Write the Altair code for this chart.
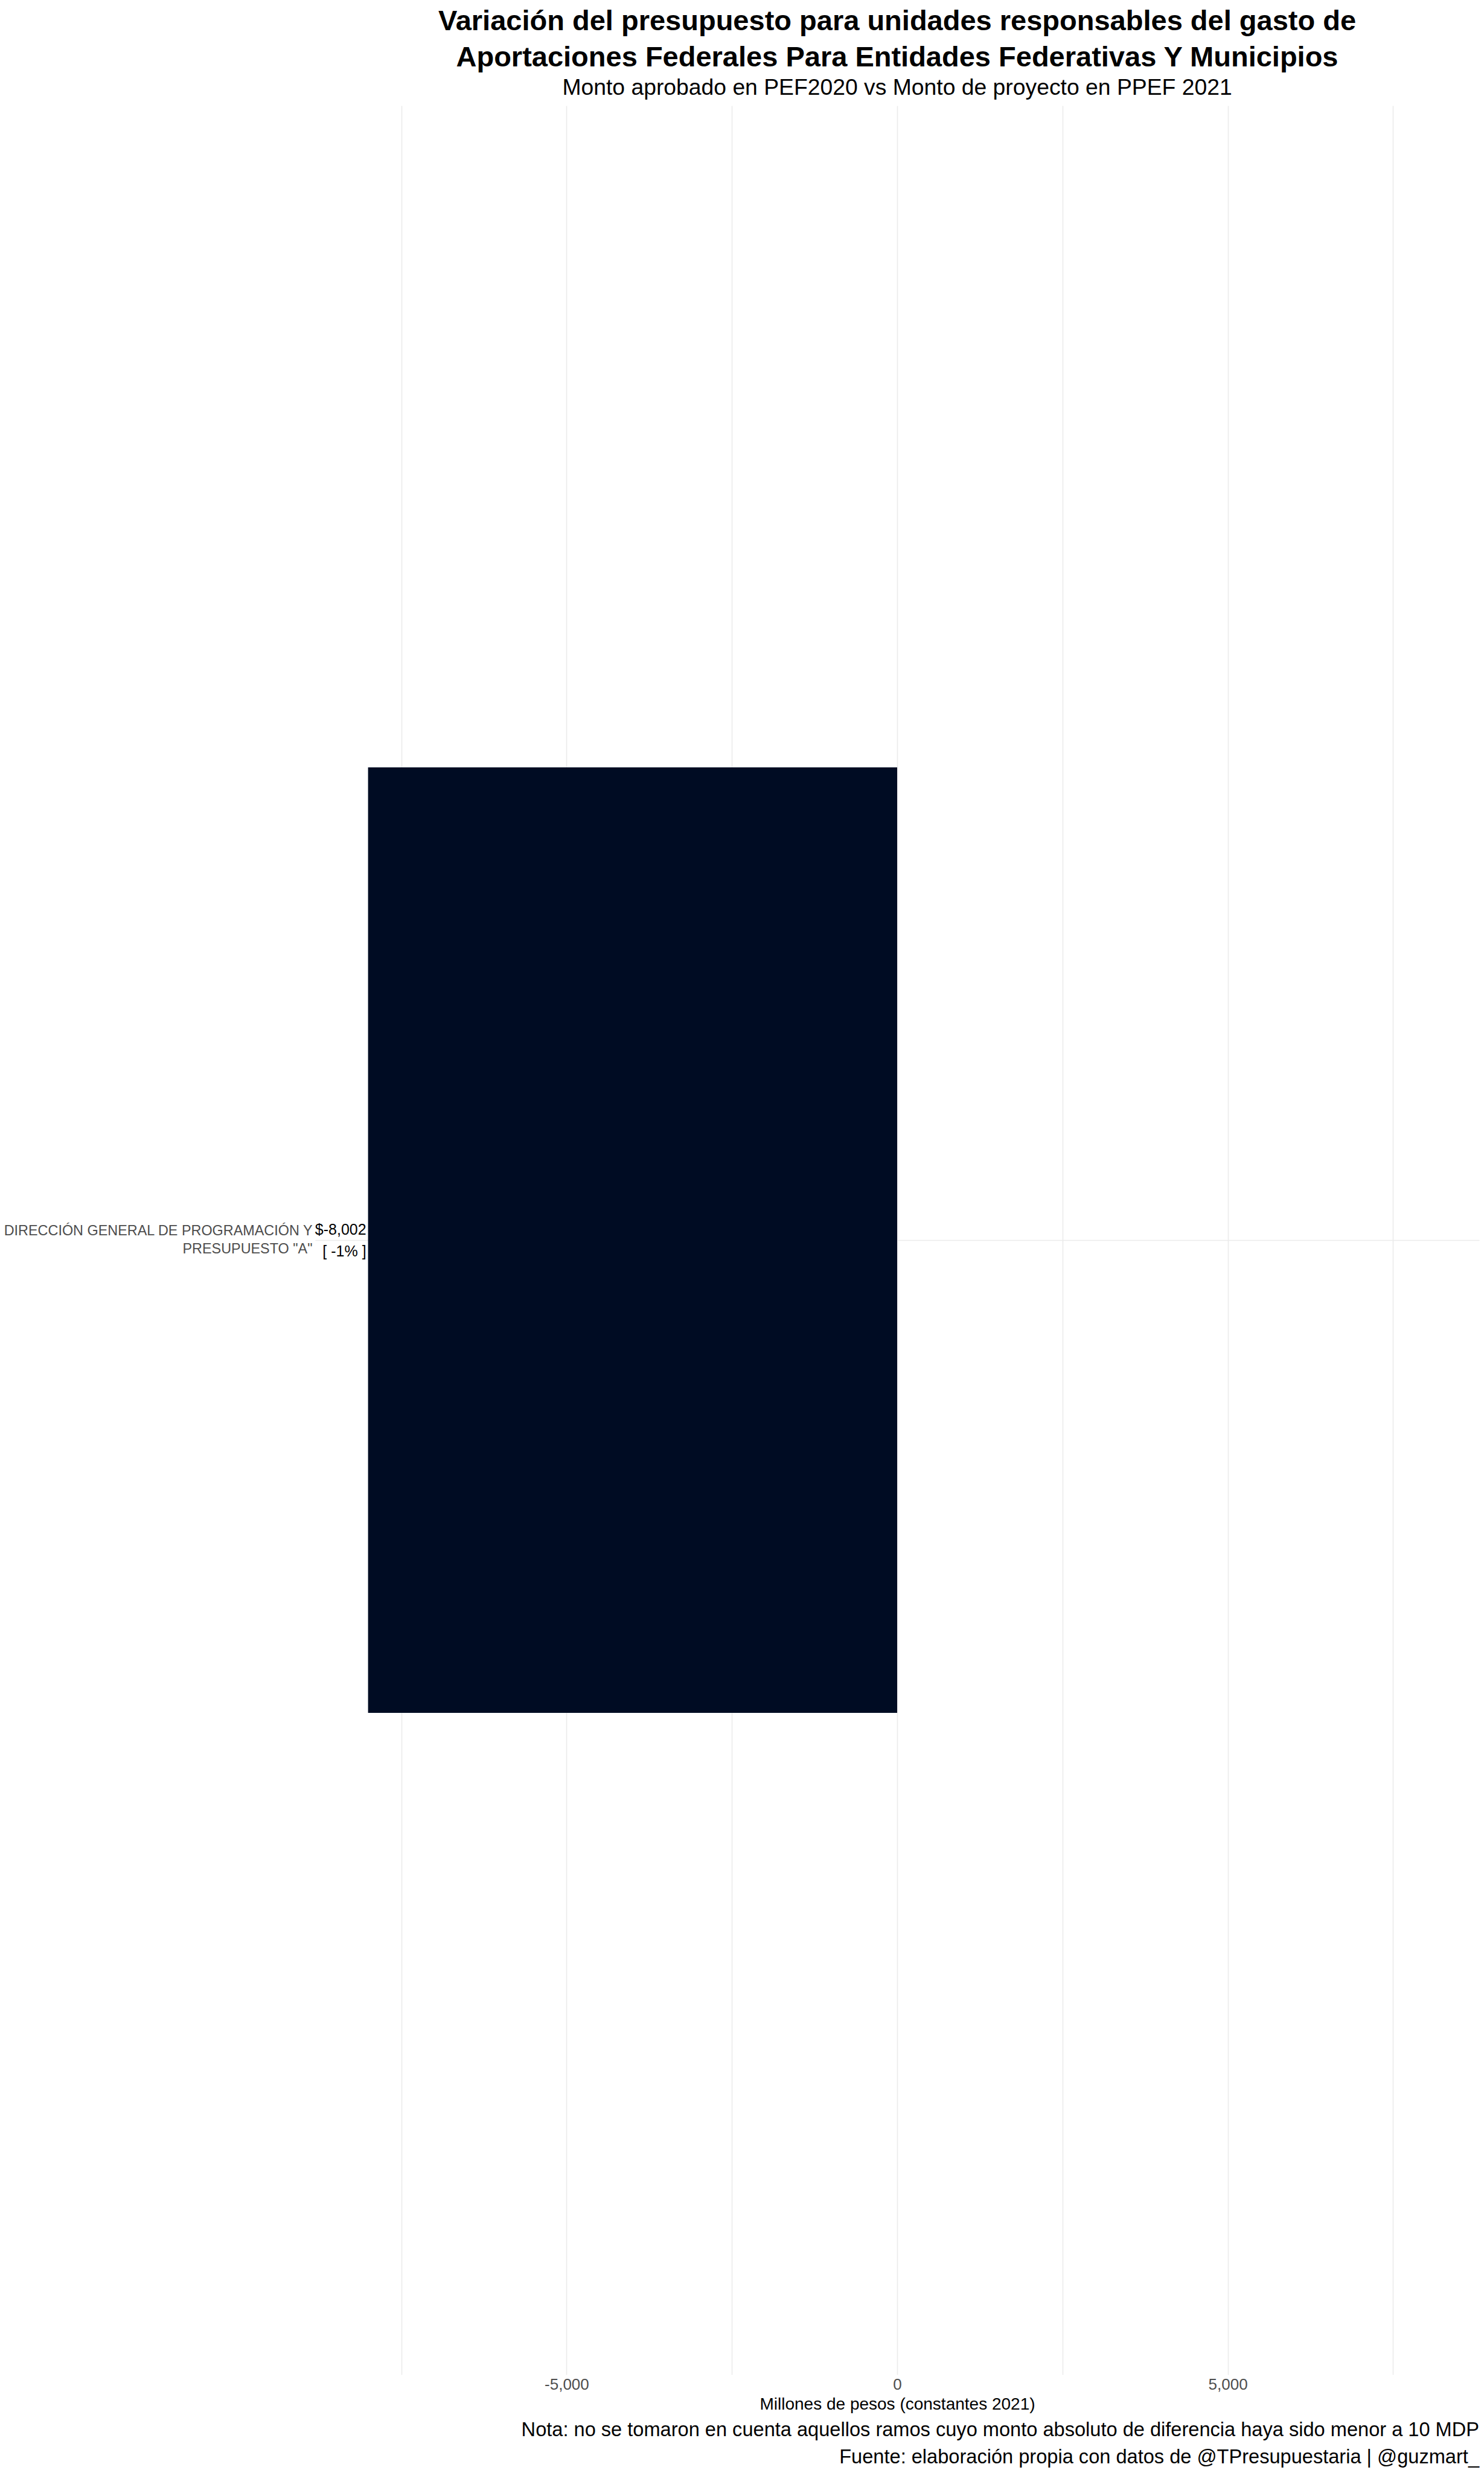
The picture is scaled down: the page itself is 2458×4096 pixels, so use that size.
import altair as alt
import pandas as pd

# ---- data ----
unidades = ['DIRECCIÓN GENERAL DE PROGRAMACIÓN Y\nPRESUPUESTO "A"']
diferencia = [-8002]          # millones de pesos (constantes 2021)
porcentaje = [-1]             # % de variación
x_ticks = [-7500, -5000, -2500, 0, 2500, 5000, 7500]
x_limit = 8802

df = pd.DataFrame({"unidad": unidades, "dif": diferencia, "pct": porcentaje})
df["etiqueta"] = [f"${v:,}\n[ {p}% ]" for v, p in zip(diferencia, porcentaje)]

FONT = "Liberation Sans, Arial, sans-serif"

W, H = 1928, 3758

base = alt.Chart(df)

bars = base.mark_bar(color="#000C23").encode(
    x=alt.X("dif:Q",
            scale=alt.Scale(domain=[-x_limit, x_limit], nice=False, zero=False),
            axis=alt.Axis(values=x_ticks, grid=True, gridColor="#EBEBEB", gridWidth=1.6,
                          domain=False, ticks=False, tickSize=0,
                          labelExpr="abs(datum.value) % 5000 == 0 ? replace(format(datum.value, ','), '\u2212', '-') : ''",
                          labelFont=FONT, labelFontSize=26, labelColor="#4D4D4D",
                          labelPadding=3,
                          title="Millones de pesos (constantes 2021)",
                          titleFont=FONT, titleFontSize=28, titleFontWeight="normal",
                          titleColor="#000000", titlePadding=6)),
    y=alt.Y("unidad:N",
            scale=alt.Scale(paddingInner=0, paddingOuter=0.7),
            axis=alt.Axis(title=None, grid=True, gridColor="#EBEBEB", gridWidth=1.6,
                          bandPosition=0.5, domain=False, ticks=False, tickSize=0,
                          labelExpr="split(datum.label, '\\n')",
                          labelFont=FONT, labelFontSize=23.4, labelColor="#4D4D4D",
                          labelLineHeight=30, labelAlign="right", labelBaseline="middle",
                          labelOffset=-15, labelPadding=5, labelLimit=1000)),
)

labels = base.mark_text(align="right", baseline="middle", dx=-3, dy=-17, font=FONT,
                        fontSize=25, lineHeight=36, lineBreak="\n", color="#000000").encode(
    x="dif:Q",
    y="unidad:N",
    text="etiqueta:N",
)

nota = alt.Chart(pd.DataFrame({"t": ["Nota: no se tomaron en cuenta aquellos ramos cuyo monto absoluto de diferencia haya sido menor a 10 MDP"]})).mark_text(
    align="right", baseline="middle", font=FONT, fontSize=32.6, color="#000000").encode(
    text="t:N", x=alt.value(W), y=alt.value(H + 92))

fuente = alt.Chart(pd.DataFrame({"t": ["Fuente: elaboración propia con datos de @TPresupuestaria | @guzmart_"]})).mark_text(
    align="right", baseline="middle", font=FONT, fontSize=32.6, color="#000000").encode(
    text="t:N", x=alt.value(W), y=alt.value(H + 137))

chart = alt.layer(bars, labels, nota, fuente).properties(
    width=W, height=H,
    background="#FFFFFF",
    title=alt.TitleParams(
        text=["Variación del presupuesto para unidades responsables del gasto de",
              "Aportaciones Federales Para Entidades Federativas Y Municipios"],
        subtitle="Monto aprobado en PEF2020 vs Monto de proyecto en PPEF 2021",
        anchor="middle", frame="group",
        font=FONT, fontSize=47, fontWeight="bold", lineHeight=60, color="#000000",
        subtitleFont=FONT, subtitleFontSize=37.3, subtitleColor="#000000",
        subtitlePadding=8, offset=10),
    padding={"left": 522, "top": 175, "right": 8, "bottom": 163},
    autosize=alt.AutoSizeParams(type="none"),
).configure_view(stroke=None)

chart.save("out.html", embed_options={"renderer": "svg", "actions": False})
